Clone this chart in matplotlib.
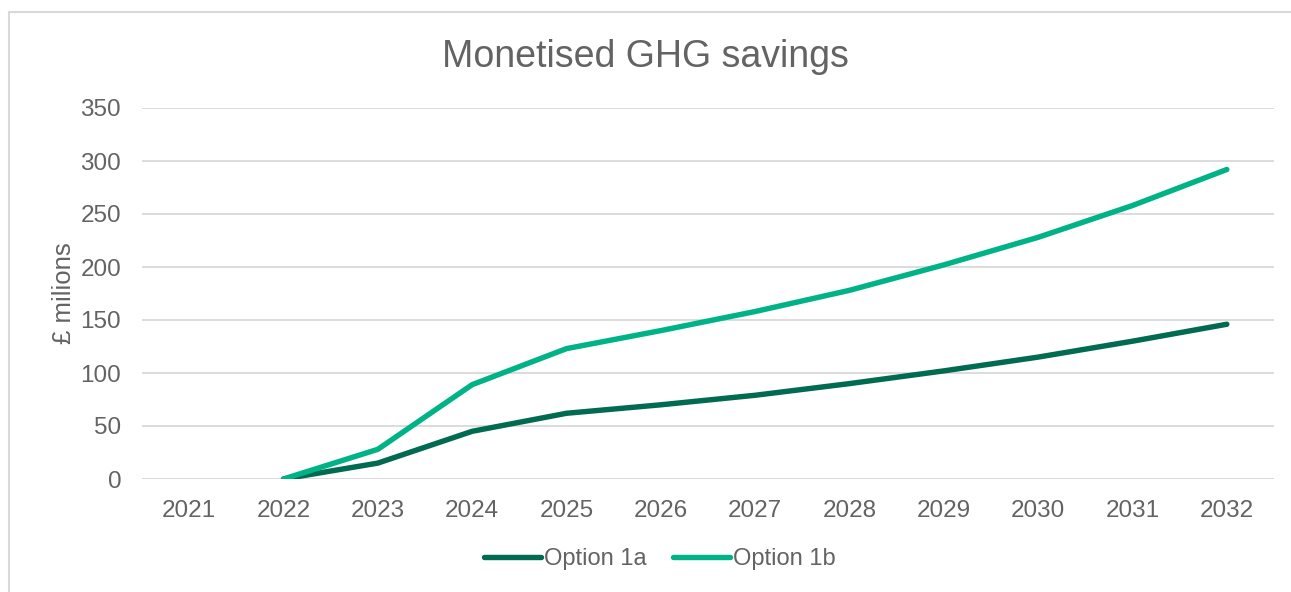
import matplotlib
matplotlib.use('Agg')
import matplotlib.pyplot as plt
from matplotlib.patches import Rectangle

years = ['2021', '2022', '2023', '2024', '2025', '2026', '2027', '2028', '2029', '2030', '2031', '2032']
# 2021 has no value
option_1a = [None, 0, 15, 45, 62, 70, 79, 90, 102, 115, 130, 146]
option_1b = [None, 0, 28, 89, 123, 140, 158, 178, 202, 228, 258, 292]

color_1a = '#006B50'
color_1b = '#00B386'
text_grey = '#636363'
grid_grey = '#d9d9d9'

plt.rcParams['font.family'] = ['Liberation Sans', 'DejaVu Sans']

fig = plt.figure(figsize=(12.91, 5.92), dpi=100, facecolor='white')
ax = fig.add_axes([142 / 1291, 1 - 479 / 592, (1274 - 142) / 1291, (479 - 108) / 592])

# chart area border
fig.patches.append(Rectangle((9 / 1291, -0.1), 1.2, 1 - 12 / 592 + 0.1, transform=fig.transFigure,
                             fill=False, edgecolor=grid_grey, linewidth=1.5))

x = list(range(len(years)))
xs_a = [i for i, v in zip(x, option_1a) if v is not None]
ys_a = [v for v in option_1a if v is not None]
xs_b = [i for i, v in zip(x, option_1b) if v is not None]
ys_b = [v for v in option_1b if v is not None]

ax.plot(xs_a, ys_a, color=color_1a, linewidth=3.9, solid_capstyle='round', solid_joinstyle='round',
        label='Option 1a', zorder=3)
ax.plot(xs_b, ys_b, color=color_1b, linewidth=3.9, solid_capstyle='round', solid_joinstyle='round',
        label='Option 1b', zorder=3)

ax.set_xlim(-0.5, len(years) - 0.5)
ax.set_ylim(0, 350)
ax.set_xticks(x)
ax.set_xticklabels(years)
ax.set_yticks(range(0, 351, 50))
ax.grid(axis='y', color=grid_grey, linewidth=1.3)
ax.set_axisbelow(True)
for s in ax.spines.values():
    s.set_visible(False)
ax.tick_params(axis='both', length=0, labelsize=17.5, colors=text_grey)
ax.tick_params(axis='x', pad=15)
ax.tick_params(axis='y', pad=15)

ax.set_ylabel('£ milions', fontsize=18.5, color=text_grey, labelpad=3)
fig.text(0.5, 1 - 57 / 592, 'Monetised GHG savings', ha='center', va='center', fontsize=27, color=text_grey)

leg = fig.legend(loc='center', bbox_to_anchor=(660 / 1291, 1 - 559 / 592), ncol=2, frameon=False,
                 fontsize=17, handlelength=2.4, handletextpad=0.15, columnspacing=1.1)
for t in leg.get_texts():
    t.set_color(text_grey)

fig.savefig('out.png', dpi=100, facecolor='white')
